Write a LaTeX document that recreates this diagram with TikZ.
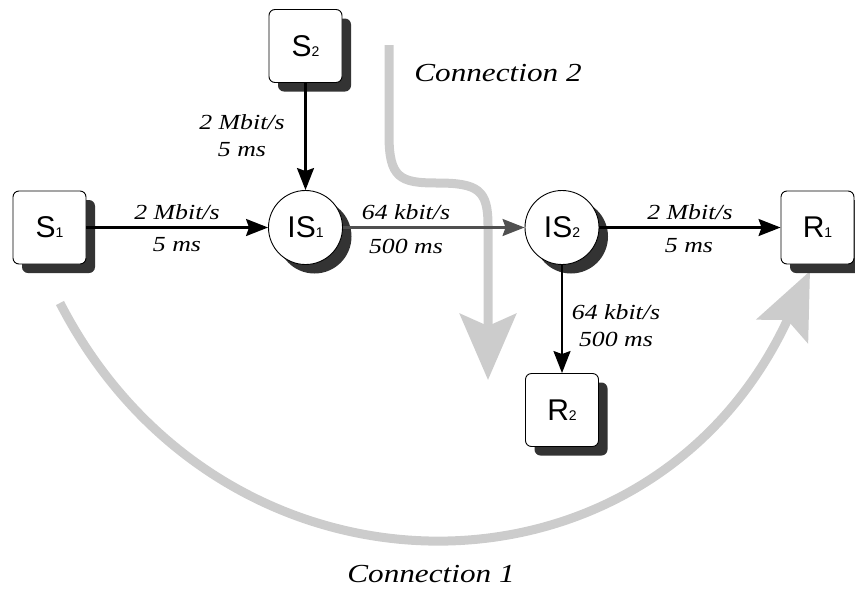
\documentclass[tikz,border=0pt]{standalone}
\usepackage{fontspec}
\setmainfont{Liberation Serif}
\newfontfamily\labfont[FakeStretch=1.2, ItalicFont={Liberation Serif Italic}]{Liberation Serif}
\newfontfamily\nodefont{Liberation Sans}
\usetikzlibrary{arrows.meta,shadows}
\definecolor{shad}{RGB}{51,51,51}
\definecolor{flow}{RGB}{204,204,204}
\definecolor{midline}{RGB}{80,80,80}
\newcommand\nlab[2]{{\nodefont\fontsize{30}{30}\selectfont #1\fontsize{14}{14}\selectfont #2}}
\tikzset{
  hostbox/.style={draw=black, line width=0.9pt, fill=white, rounded corners=6pt,
    minimum width=73pt, minimum height=73pt, inner sep=0pt,
    drop shadow={shadow xshift=9pt, shadow yshift=-9pt, fill=shad, opacity=1}},
  switchnode/.style={draw=black, line width=0.9pt, fill=white, circle,
    minimum size=74pt, inner sep=0pt,
    drop shadow={shadow xshift=9pt, shadow yshift=-9pt, fill=shad, opacity=1}},
  link/.style={line width=2.2pt, -{Stealth[length=22pt,width=17pt,inset=3pt]}},
  lab/.style={font=\labfont\itshape\fontsize{21.5}{27}\selectfont, inner sep=0pt, align=center},
  conlab/.style={font=\labfont\itshape\fontsize{26}{30}\selectfont, inner sep=0pt},
  flowarrow/.style={draw=flow, line width=9pt, -{Stealth[length=66pt,width=56pt,inset=12pt,fill=flow]}}
}
\begin{document}
\begin{tikzpicture}[x=1pt,y=-1pt]
\useasboundingbox (0,0) rectangle (855,590);

% flow arrows (behind)
\coordinate (c2a) at (389,45);
\coordinate (c2b) at (389,135);
\coordinate (c2c) at (437,183);
\coordinate (c2d) at (488,225);
\coordinate (c2e) at (488,380);
\draw[flowarrow] (c2a) -- (c2b) .. controls (389,178) and (400,183) .. (c2c)
  .. controls (478,183) and (488,190) .. (c2d) -- (c2e);

\coordinate (c1a) at (60,303);
\coordinate (c1b) at (810,271);
\draw[flowarrow] (c1a) .. controls (222,618) and (650,618) .. (c1b);

% nodes
\node[hostbox] (S1) at (49.5,227.5) {\nlab{S}{1}};
\node[hostbox] (S2) at (305.5,46) {\nlab{S}{2}};
\node[switchnode] (IS1) at (305.5,227.5) {\nlab{IS}{1}};
\node[switchnode] (IS2) at (562,227.5) {\nlab{IS}{2}};
\node[hostbox] (R1) at (817.5,227.5) {\nlab{R}{1}};
\node[hostbox] (R2) at (562,410) {\nlab{R}{2}};

% links
\draw[link] (S1) -- (IS1);
\draw[link] (S2) -- (IS1);
\draw[link, draw=midline, -{Stealth[length=22pt,width=17pt,inset=3pt,fill=midline]}] (IS1) -- (IS2);
\draw[link] (IS2) -- (R1);
\draw[link] (IS2) -- (R2);

% labels
\node[lab] (l1a) at (177,212) {2 Mbit/s};
\node[lab] (l1b) at (177,245) {5 ms};
\node[lab] (l2) at (242,136) {2 Mbit/s\\5 ms};
\node[lab] (l3a) at (406,212) {64 kbit/s};
\node[lab] (l3b) at (406,246) {500 ms};
\node[lab] (l4a) at (690,212) {2 Mbit/s};
\node[lab] (l4b) at (689,246) {5 ms};
\node[lab] (l5) at (616,326) {64 kbit/s\\500 ms};

\node[conlab] (con2) at (498,73) {Connection 2};
\node[conlab] (con1) at (431,574) {Connection 1};
\end{tikzpicture}
\end{document}
